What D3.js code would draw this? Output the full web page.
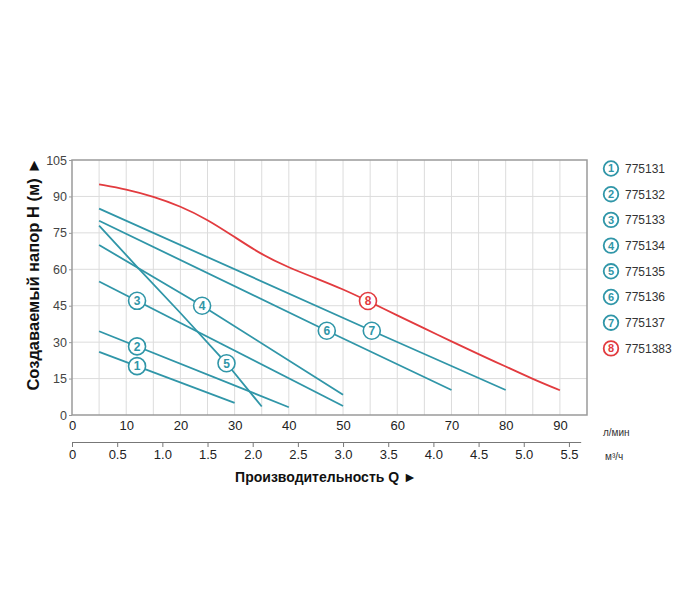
<!DOCTYPE html>
<html><head><meta charset="utf-8">
<script src="https://cdn.jsdelivr.net/npm/d3@7"></script>
<style>
body{margin:0;background:#fff;}
svg{display:block;font-family:"Liberation Sans",Arial,sans-serif;}
</style></head>
<body><svg id="chart" width="700" height="601"></svg>
<script>
// ---- data ----
const models = ["775131","775132","775133","775134","775135","775136","775137","7751383"];
const curve1 = [[5,26],[30,5]];
const curve2 = [[5,34.5],[40,3.2]];
const curve3 = [[5,55],[50,3.7]];
const curve4 = [[5,70],[24,45],[50,8.3]];
const curve5 = [[5,78],[12,61],[20,42],[28.5,21.3],[35,3.5]];
const curve6 = [[5,80],[47,34.7],[70,10.3]];
const curve7 = [[5,85],[55.3,34.7],[80,10.3]];
const curve8 = [[5,95],[10,93],[15,90],[20,86],[25,80.5],[30,73.3],[35,66],[40,60.7],[45,56.3],[50,51.8],[55,46.5],[60,41],[65,35.7],[70,30.3],[75,25],[80,20],[85,14.8],[90,10.2]];
const curves = [curve1,curve2,curve3,curve4,curve5,curve6,curve7,curve8];
const labelQ = [12,12,12,24,28.5,47,55.3,54.6];
const yTicks = [0,15,30,45,60,75,90,105];
const xTicksLmin = [0,10,20,30,40,50,60,70,80,90];
const xTicksM3h = [0,0.5,1.0,1.5,2.0,2.5,3.0,3.5,4.0,4.5,5.0,5.5];
const gridQ = [5,10,15,20,25,30,35,40,45,50,55,60,65,70,75,80,85,90];
const gridH = [15,30,45,60,75,90];

const TEAL = "#3096a8", RED = "#e23b3f";
const svg = d3.select("#chart");
const x = d3.scaleLinear().domain([0,95]).range([72,587]);
const y = d3.scaleLinear().domain([0,105]).range([415,160]);

// grid
svg.append("g").selectAll("line").data(gridQ).join("line")
  .attr("x1",d=>x(d)).attr("x2",d=>x(d)).attr("y1",y(0)).attr("y2",y(105))
  .attr("stroke","#dcdcdc").attr("stroke-width",1);
svg.append("g").selectAll("line").data(gridH).join("line")
  .attr("y1",d=>y(d)).attr("y2",d=>y(d)).attr("x1",x(0)).attr("x2",x(95))
  .attr("stroke","#dcdcdc").attr("stroke-width",1);
// border
svg.append("rect").attr("x",x(0)).attr("y",y(105)).attr("width",x(95)-x(0)).attr("height",y(0)-y(105))
  .attr("fill","none").attr("stroke","#9a9a9a").attr("stroke-width",1.5);

// y axis
const yAxis = d3.axisLeft(y).tickValues(yTicks).tickSize(3).tickSizeOuter(0).tickPadding(2);
const gy = svg.append("g").attr("transform",`translate(${x(0)},0)`).call(yAxis);
gy.select(".domain").remove();
gy.selectAll(".tick line").attr("stroke","#9a9a9a");
gy.selectAll(".tick text").attr("font-size",12.5).attr("fill","#444").attr("font-family","Liberation Sans, Arial, sans-serif");

// x axis l/min
const xAxis = d3.axisBottom(x).tickValues(xTicksLmin).tickSize(0).tickPadding(6);
const gx = svg.append("g").attr("transform",`translate(0,${y(0)})`).call(xAxis);
gx.select(".domain").remove();
gx.selectAll(".tick text").attr("font-size",13).attr("fill","#222").attr("font-family","Liberation Sans, Arial, sans-serif");

// x axis m3/h
const x2 = d3.scaleLinear().domain([0,5.63]).range([x(0), x(5.63*1000/60)]);
const xAxis2 = d3.axisBottom(x2).tickValues(xTicksM3h).tickSize(5).tickSizeOuter(0).tickPadding(3)
  .tickFormat(d=>d===0?"0":d3.format(".1f")(d));
const gx2 = svg.append("g").attr("transform",`translate(0,442)`).call(xAxis2);
gx2.select(".domain").attr("stroke","#777");
gx2.selectAll(".tick line").attr("stroke","#777");
gx2.selectAll(".tick text").attr("font-size",13).attr("fill","#222").attr("font-family","Liberation Sans, Arial, sans-serif");

// unit labels
svg.append("text").attr("x",603).attr("y",436).attr("font-size",10).attr("fill","#333").text("л/мин");
svg.append("text").attr("x",605).attr("y",460).attr("font-size",10).attr("fill","#333").text("м³/ч");

// titles
svg.append("text").attr("x",326).attr("y",482).attr("text-anchor","middle")
  .attr("font-size",14).attr("font-weight","bold").attr("fill","#111").text("Производительность Q ►");
svg.append("text").attr("transform",`translate(39,274) rotate(-90)`).attr("text-anchor","middle")
  .attr("font-size",16.5).attr("font-weight","bold").attr("fill","#111").text("Создаваемый напор H (м) ►");

// curves
const lineLin = d3.line().x(d=>x(d[0])).y(d=>y(d[1]));
const lineSmooth = d3.line().x(d=>x(d[0])).y(d=>y(d[1])).curve(d3.curveBasis);
curves.forEach((c,i)=>{
  const col = i===7?RED:TEAL;
  svg.append("path").datum(c).attr("d", i===7?lineSmooth:lineLin)
    .attr("fill","none").attr("stroke",col).attr("stroke-width",1.8);
});

// value along a curve at Q (from the curve's own points)
function hAt(c,q){
  for(let k=0;k<c.length-1;k++){
    if(q>=c[k][0] && q<=c[k+1][0]){
      const t=(q-c[k][0])/(c[k+1][0]-c[k][0]);
      return c[k][1]+t*(c[k+1][1]-c[k][1]);
    }
  }
  return c[c.length-1][1];
}
curves.forEach((c,i)=>{
  const col = i===7?RED:TEAL;
  const q = labelQ[i], h = hAt(c,q);
  const g = svg.append("g").attr("transform",`translate(${x(q)},${y(h)})`);
  g.append("circle").attr("r",8.5).attr("fill","#fff").attr("stroke",col).attr("stroke-width",1.6);
  g.append("text").attr("text-anchor","middle").attr("dy","0.36em").attr("font-size",12)
    .attr("font-weight","bold").attr("fill",col).text(i+1);
});

// legend
models.forEach((m,i)=>{
  const col = i===7?RED:TEAL;
  const cy = 168.5 + i*25.7;
  const g = svg.append("g").attr("transform",`translate(611,${cy})`);
  g.append("circle").attr("r",7.3).attr("fill","#fff").attr("stroke",col).attr("stroke-width",1.8);
  g.append("text").attr("text-anchor","middle").attr("dy","0.36em").attr("font-size",11)
    .attr("font-weight","bold").attr("fill",col).text(i+1);
  g.append("text").attr("x",14).attr("dy","0.36em").attr("font-size",12).attr("fill","#333").text(m);
});
</script>
</body></html>
